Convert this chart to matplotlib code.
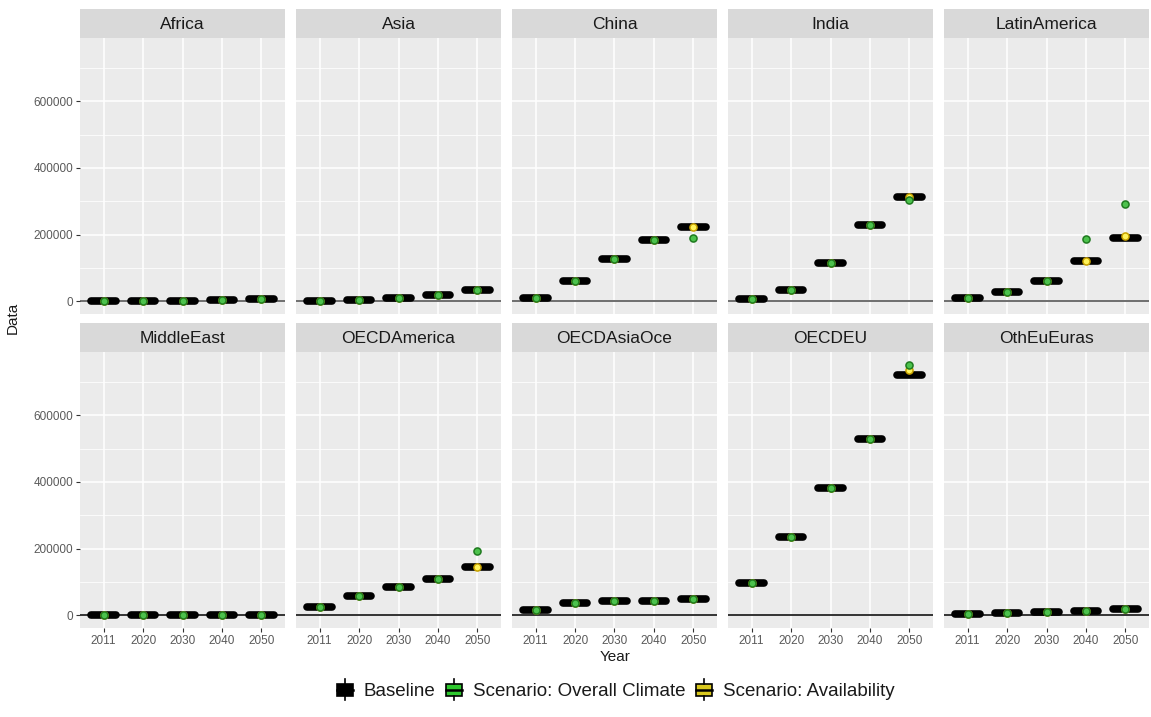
import matplotlib
matplotlib.use("Agg")
import matplotlib.pyplot as plt
from matplotlib.patches import Rectangle, Patch
from matplotlib.lines import Line2D
from matplotlib.legend_handler import HandlerBase
import numpy as np

plt.rcParams['font.family'] = ['Liberation Sans', 'DejaVu Sans']

years = ["2011", "2020", "2030", "2040", "2050"]
regions = ["Africa", "Asia", "China", "India", "LatinAmerica",
           "MiddleEast", "OECDAmerica", "OECDAsiaOce", "OECDEU", "OthEuEuras"]

# Baseline values per region
baseline_africa = [1000, 1500, 2500, 4000, 8000]
baseline_asia = [1000, 5000, 9000, 19000, 33000]
baseline_china = [10000, 61000, 128000, 183000, 223000]
baseline_india = [8000, 35000, 116000, 228000, 314000]
baseline_latinamerica = [10000, 27000, 60000, 122000, 191000]
baseline_middleeast = [500, 700, 900, 1100, 1300]
baseline_oecdamerica = [24000, 59000, 86000, 108000, 145000]
baseline_oecdasiaoce = [17000, 36000, 43000, 43000, 49000]
baseline_oecdeu = [97000, 235000, 381000, 528000, 722000]
baseline_otheueuras = [3000, 7000, 10000, 12000, 19000]

# Scenario: Overall Climate
climate_africa = [1000, 1500, 2500, 4000, 8000]
climate_asia = [1000, 5000, 9000, 19000, 33000]
climate_china = [10000, 61000, 128000, 183000, 191000]
climate_india = [8000, 35000, 116000, 228000, 304000]
climate_latinamerica = [10000, 27000, 60000, 188000, 293000]
climate_middleeast = [500, 700, 900, 1100, 1300]
climate_oecdamerica = [24000, 59000, 86000, 108000, 192000]
climate_oecdasiaoce = [17000, 36000, 43000, 43000, 49000]
climate_oecdeu = [97000, 235000, 381000, 528000, 752000]
climate_otheueuras = [3000, 7000, 10000, 12000, 19000]

# Scenario: Availability
avail_africa = [1000, 1500, 2500, 4000, 8000]
avail_asia = [1000, 5000, 9000, 19000, 33000]
avail_china = [10000, 61000, 128000, 183000, 223000]
avail_india = [8000, 35000, 116000, 228000, 314000]
avail_latinamerica = [10000, 27000, 60000, 122000, 195000]
avail_middleeast = [500, 700, 900, 1100, 1300]
avail_oecdamerica = [24000, 59000, 86000, 108000, 145000]
avail_oecdasiaoce = [17000, 36000, 43000, 43000, 49000]
avail_oecdeu = [97000, 235000, 381000, 528000, 737000]
avail_otheueuras = [3000, 7000, 10000, 12000, 19000]

series = {
    "Africa": (baseline_africa, climate_africa, avail_africa),
    "Asia": (baseline_asia, climate_asia, avail_asia),
    "China": (baseline_china, climate_china, avail_china),
    "India": (baseline_india, climate_india, avail_india),
    "LatinAmerica": (baseline_latinamerica, climate_latinamerica, avail_latinamerica),
    "MiddleEast": (baseline_middleeast, climate_middleeast, avail_middleeast),
    "OECDAmerica": (baseline_oecdamerica, climate_oecdamerica, avail_oecdamerica),
    "OECDAsiaOce": (baseline_oecdasiaoce, climate_oecdasiaoce, avail_oecdasiaoce),
    "OECDEU": (baseline_oecdeu, climate_oecdeu, avail_oecdeu),
    "OthEuEuras": (baseline_otheueuras, climate_otheueuras, avail_otheueuras),
}

yticks = [0, 200000, 400000, 600000]
yminor = [100000, 300000, 500000, 700000]

BG = "#EBEBEB"
STRIP = "#D9D9D9"
GREEN_FC, GREEN_EC = "#4CC24C", "#1F7A1F"
YELLOW_FC, YELLOW_EC = "#FFF35A", "#C8A200"

allvals = np.concatenate([np.r_[b, c, a, 0] for b, c, a in series.values()])
span = allvals.max() - allvals.min()
ylo, yhi = allvals.min() - 0.05 * span, allvals.max() + 0.05 * span

W, H = 1151, 717
fig = plt.figure(figsize=(W / 100, H / 100), dpi=100)

left0, pw, gap = 80, 205, 11
strip_h = 29
row_tops = [9, 323]      # top of strip (pixels from top)
panel_h = 276

x = np.arange(len(years))
for i, reg in enumerate(regions):
    r, c = divmod(i, 5)
    px = left0 + c * (pw + gap)
    ptop = row_tops[r] + strip_h
    ax = fig.add_axes([px / W, 1 - (ptop + panel_h) / H, pw / W, panel_h / H])
    ax.set_facecolor(BG)
    for s in ax.spines.values():
        s.set_visible(False)
    ax.set_xlim(-0.6, len(years) - 0.4)
    ax.set_ylim(ylo, yhi)
    for yv in yminor:
        ax.axhline(yv, color="white", lw=0.55, zorder=0)
    for yv in yticks:
        ax.axhline(yv, color="white", lw=1.1, zorder=0)
    for xv in x:
        ax.axvline(xv, color="white", lw=1.1, zorder=0)
    ax.axhline(0, color="#6E6E6E" if r == 0 else "#333333", lw=1.4, zorder=1)

    b, cl, av = series[reg]
    for xi, bv in zip(x, b):
        ax.plot([xi - 0.31, xi + 0.31], [bv, bv], color="black", lw=5.5,
                solid_capstyle="round", zorder=2)
    ax.scatter(x, av, s=26, c=YELLOW_FC, edgecolors=YELLOW_EC, linewidths=1.1, zorder=3)
    ax.scatter(x, cl, s=26, c=GREEN_FC, edgecolors=GREEN_EC, linewidths=1.1, zorder=4)

    ax.set_yticks(yticks)
    ax.set_xticks(x)
    ax.tick_params(axis="both", length=3, width=0.8, color="#333333",
                   labelsize=8.5, labelcolor="#5A5A5A", pad=2)
    if c == 0:
        ax.set_yticklabels([str(v) for v in yticks])
    else:
        ax.tick_params(axis="y", length=0, labelleft=False)
    if r == 1:
        ax.set_xticklabels(years)
    else:
        ax.tick_params(axis="x", length=0, labelbottom=False)

    sax = fig.add_axes([px / W, 1 - ptop / H, pw / W, strip_h / H])
    sax.set_facecolor(STRIP)
    sax.set_xticks([]); sax.set_yticks([])
    for s in sax.spines.values():
        s.set_visible(False)
    sax.text(0.5, 0.48, reg, ha="center", va="center", fontsize=12.5,
             color="#1A1A1A", transform=sax.transAxes)

fig.text(13 / W, 1 - 318 / H, "Data", rotation=90, ha="center", va="center",
         fontsize=11, color="#1A1A1A")
fig.text(615 / W, 1 - 657 / H, "Year", ha="center", va="center",
         fontsize=11, color="#1A1A1A")


class BoxKey(HandlerBase):
    def create_artists(self, legend, orig_handle, xdescent, ydescent,
                       width, height, fontsize, trans):
        fc = orig_handle.get_facecolor()
        x0, y0 = -xdescent, -ydescent
        cx = x0 + width / 2
        h2 = height * 1.3
        yb = y0 + height / 2 - h2 / 2
        rect = Rectangle((x0 + width * 0.08, yb + h2 * 0.22), width * 0.84, h2 * 0.56,
                         facecolor=fc, edgecolor="black", lw=1.2, transform=trans)
        w1 = Line2D([cx, cx], [yb, yb + h2 * 0.22], color="black", lw=1.2, transform=trans)
        w2 = Line2D([cx, cx], [yb + h2 * 0.78, yb + h2], color="black", lw=1.2, transform=trans)
        med = Line2D([x0 + width * 0.08, x0 + width * 0.92], [yb + h2 / 2] * 2,
                     color="black", lw=1.8, transform=trans)
        return [rect, w1, w2, med]


handles = [Patch(facecolor="black"), Patch(facecolor="#2EC82E"), Patch(facecolor="#D9C81E")]
labels = ["Baseline", "Scenario: Overall Climate", "Scenario: Availability"]
fig.legend(handles, labels, handler_map={Patch: BoxKey()}, loc="center",
           bbox_to_anchor=(615 / W, 1 - 691 / H), ncol=3, frameon=False,
           fontsize=13.5, handlelength=1.0, handleheight=0.95, handletextpad=0.5,
           columnspacing=0.5, labelcolor="#1A1A1A")

fig.savefig("out.png", dpi=100)
